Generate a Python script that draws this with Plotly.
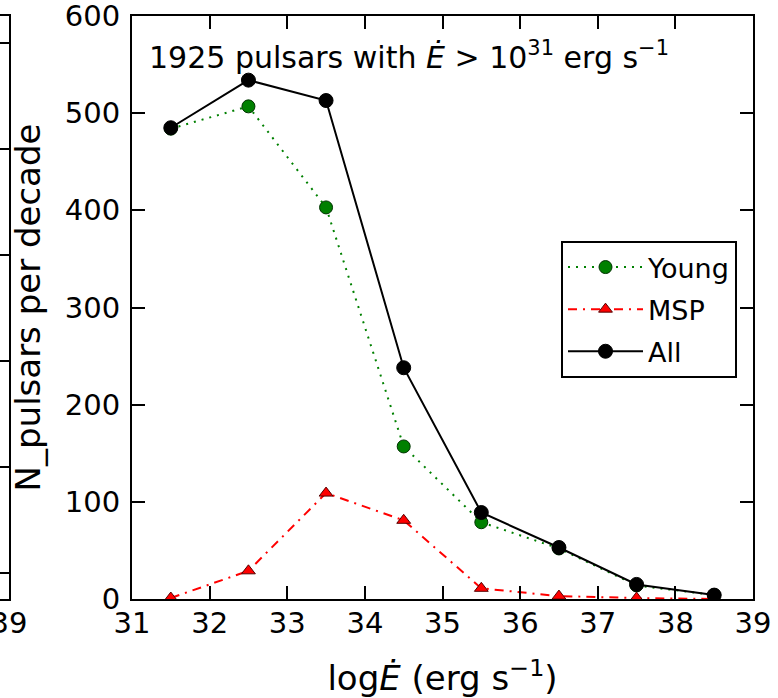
import plotly.graph_objects as go

# Data
log_edot = [31.5, 32.5, 33.5, 34.5, 35.5, 36.5, 37.5, 38.5]
young = [484, 507, 403, 157, 79, 52, 14, 4]
msp = [1, 29, 109, 81, 11, 3, 1, 0]
all_psr = [485, 534, 513, 238, 89, 53, 15, 4]

x_ticks = [31, 32, 33, 34, 35, 36, 37, 38, 39]
y_ticks = [0, 100, 200, 300, 400, 500, 600]

FONT = "DejaVu Sans"
W, H = 778, 698
ML, MR, MT, MB = 0, 25, 16, 99
PW = W - ML - MR
ax_left = 132 / PW

fig = go.Figure()

fig.add_trace(go.Scatter(
    x=log_edot, y=young, name="Young", mode="lines+markers",
    line=dict(color="#008000", width=2, dash="2px,6px"),
    marker=dict(symbol="circle", size=13, color="#008000",
                line=dict(color="#003300", width=1)),
    legendgroup="a",
))
fig.add_trace(go.Scatter(
    x=log_edot, y=msp, name="MSP", mode="lines+markers",
    line=dict(color="#ff0000", width=2, dash="9px,6px,2px,6px"),
    marker=dict(symbol="triangle-up", size=12, color="#ff0000",
                line=dict(color="#550000", width=1)),
    legendgroup="b",
))
fig.add_trace(go.Scatter(
    x=log_edot, y=all_psr, name="All", mode="lines+markers",
    line=dict(color="black", width=2),
    marker=dict(symbol="circle", size=14, color="black",
                line=dict(color="black", width=1)),
    legendgroup="c",
))

# partial neighbouring panel at the left edge (axes only)
fig.add_trace(go.Scatter(x=[38.0], y=[None], xaxis="x2", yaxis="y2",
                         showlegend=False, hoverinfo="skip"))

axis_common = dict(showline=True, linecolor="black", linewidth=2,
                   ticks="inside", ticklen=13, tickwidth=1.5, tickcolor="black",
                   showgrid=False, zeroline=False, automargin=False,
                   ticklabeloverflow="allow",
                   tickfont=dict(family=FONT, size=29, color="black"))

fig.update_layout(
    width=W, height=H,
    margin=dict(l=ML, r=MR, t=MT, b=MB),
    paper_bgcolor="white", plot_bgcolor="white",
    font=dict(family=FONT, color="black"),
    xaxis=dict(domain=[ax_left, 1], range=[31, 39], tickvals=x_ticks,
               mirror="ticks", ticklabelstandoff=-3,
               title=dict(text="log<i>Ė</i> (erg s<sup>−1</sup>)",
                          font=dict(family=FONT, size=34), standoff=28),
               **axis_common),
    yaxis=dict(range=[0, 600], tickvals=y_ticks, mirror="ticks",
               ticklabelstandoff=4,
               title=dict(text="N_pulsars per decade",
                          font=dict(family=FONT, size=34), standoff=14),
               **axis_common),
    xaxis2=dict(domain=[0, 9 / PW], range=[38.9, 39], tickvals=[39],
                anchor="y2", mirror="ticks", ticklabelstandoff=-3,
                **axis_common),
    yaxis2=dict(range=[-0.25, 5.25], tickvals=[0, 1, 2, 3, 4, 5],
                anchor="x2", side="right", mirror=False,
                showticklabels=False,
                **axis_common),
    legend=dict(x=(561 - ML) / PW, y=(599 - 241) / 583, xanchor="left",
                yanchor="top", bgcolor="white", bordercolor="black",
                borderwidth=2, font=dict(family=FONT, size=27),
                traceorder="grouped", tracegroupgap=4, itemwidth=75),
    showlegend=True,
    annotations=[dict(
        text="1925 pulsars with <i>Ė</i> > 10<sup>31</sup> erg s<sup>−1</sup>",
        xref="x domain", yref="y domain", x=(147 - 132) / 621, y=(599 - 56) / 583,
        xanchor="left", yanchor="middle", showarrow=False,
        font=dict(family=FONT, size=30, color="black"))],
)

fig.write_html("out.html",
               config={"displayModeBar": False},
               post_script="document.body.style.margin='0';"
                           "document.body.style.overflow='hidden';")
